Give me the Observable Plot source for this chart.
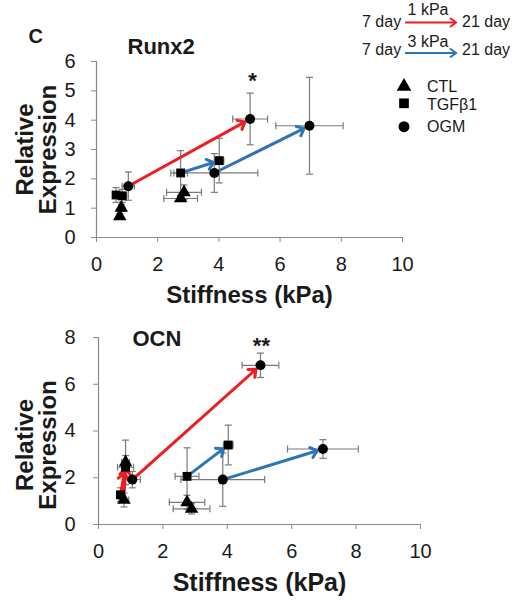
<!DOCTYPE html>
<html>
<head>
<meta charset="utf-8">
<script src="https://cdn.jsdelivr.net/npm/d3@7"></script>
<script src="https://cdn.jsdelivr.net/npm/@observablehq/plot@0.6"></script>
<style>
  body { margin: 0; background: #fff; }
  #wrap { position: relative; width: 512px; height: 600px; background: #fff;
          font-family: "Liberation Sans", Arial, sans-serif; }
  #wrap > svg, #wrap > figure { position: absolute; left: 0; margin: 0; }
</style>
</head>
<body>
<div id="wrap"></div>
<script>
// ---------------- data ----------------
const conditions = ["CTL", "TGFβ1", "OGM"];
const conditionSymbols = ["triangle", "square", "circle"];
const substrates = ["1 kPa", "3 kPa"];
const substrateColors = ["#ee1d23", "#2e75b6"];
const days = ["7 day", "21 day"];
const xTicks = [0, 2, 4, 6, 8, 10];
const runx2Ticks = [0, 1, 2, 3, 4, 5, 6];
const ocnTicks = [0, 2, 4, 6, 8];

// [condition, substrate, day, stiffness, stiffness SD, relative expression, expression SD]
const runx2Points = [
  ["CTL",   "1 kPa", 7,  0.81, 0.08, 1.01, 0.12],
  ["CTL",   "1 kPa", 21, 0.76, 0.08, 0.72, 0.10],
  ["TGFβ1", "1 kPa", 7,  0.84, 0.15, 1.42, 0.22],
  ["TGFβ1", "1 kPa", 21, 0.64, 0.10, 1.45, 0.25],
  ["OGM",   "1 kPa", 7,  1.04, 0.20, 1.75, 0.48],
  ["OGM",   "1 kPa", 21, 5.02, 0.57, 4.04, 0.88],
  ["CTL",   "3 kPa", 7,  2.75, 0.55, 1.33, 0.10],
  ["CTL",   "3 kPa", 21, 2.86, 0.57, 1.54, 0.25],
  ["TGFβ1", "3 kPa", 7,  2.75, 0.22, 2.20, 0.76],
  ["TGFβ1", "3 kPa", 21, 4.01, 0.15, 2.62, 0.76],
  ["OGM",   "3 kPa", 7,  3.85, 1.42, 2.20, 0.66],
  ["OGM",   "3 kPa", 21, 6.96, 1.10, 3.81, 1.65]
];
const ocnPoints = [
  ["CTL",   "1 kPa", 7,  0.79, 0.15, 1.05, 0.30],
  ["CTL",   "1 kPa", 21, 0.84, 0.12, 2.66, 0.95],
  ["TGFβ1", "1 kPa", 7,  0.68, 0.10, 1.27, 0.30],
  ["TGFβ1", "1 kPa", 21, 0.84, 0.25, 2.45, 0.50],
  ["OGM",   "1 kPa", 7,  1.05, 0.25, 1.92, 0.35],
  ["OGM",   "1 kPa", 21, 5.03, 0.57, 6.81, 0.52],
  ["CTL",   "3 kPa", 7,  2.75, 0.55, 0.95, 0.30],
  ["CTL",   "3 kPa", 21, 2.89, 0.57, 0.67, 0.22],
  ["TGFβ1", "3 kPa", 7,  2.75, 0.37, 2.06, 1.22],
  ["TGFβ1", "3 kPa", 21, 4.03, 0.15, 3.40, 0.85],
  ["OGM",   "3 kPa", 7,  3.86, 1.30, 1.92, 1.14],
  ["OGM",   "3 kPa", 21, 6.97, 1.10, 3.23, 0.40]
];
// significance marks: [stiffness, expression, label]
const runx2Stars = [[5.1, 5.35, "*"]];
const ocnStars = [[5.06, 7.64, "**"]];

// ---------------- helpers ----------------
const axisColor = "#8a8a8a";
const errColor = "#7a7a7a";
const textColor = "#1a1a1a";
const hCap = { draw(ctx, size) { const h = Math.sqrt(size / Math.PI); ctx.moveTo(-h, 0); ctx.lineTo(h, 0); } };
const vCap = { draw(ctx, size) { const h = Math.sqrt(size / Math.PI); ctx.moveTo(0, -h); ctx.lineTo(0, h); } };

function toRows(points) {
  return points.map(([condition, substrate, day, x, xe, y, ye]) => ({condition, substrate, day, x, xe, y, ye}));
}
function toArrows(rows) {
  const out = [];
  for (const s of substrates) for (const c of conditions) {
    const a = rows.find(r => r.condition === c && r.substrate === s && r.day === 7);
    const b = rows.find(r => r.condition === c && r.substrate === s && r.day === 21);
    if (a && b) out.push({substrate: s, x1: a.x, y1: a.y, x2: b.x, y2: b.y});
  }
  return out;
}

function panel(o) {
  const rows = toRows(o.points);
  const arrows = toArrows(rows);
  const capStyle = {stroke: errColor, fill: "none", strokeWidth: 1.2, r: 3.5};
  const fmt = d3.format("d");
  const marks = [
    Plot.ruleY([0], {stroke: axisColor, strokeWidth: 1.2}),
    Plot.ruleX([0], {stroke: axisColor, strokeWidth: 1.2}),
    Plot.axisX({ticks: xTicks, tickFormat: fmt, tickSize: 5, tickPadding: 14, stroke: axisColor, fill: textColor, fontSize: 20, label: null}),
    Plot.axisY({ticks: o.yTicks, tickFormat: fmt, tickSize: 5, tickPadding: o.yPad, stroke: axisColor, fill: textColor, fontSize: 20, label: null}),
    Plot.ruleX(rows, {x: "x", y1: d => d.y - d.ye, y2: d => d.y + d.ye, stroke: errColor, strokeWidth: 1.2}),
    Plot.ruleY(rows, {y: "y", x1: d => d.x - d.xe, x2: d => d.x + d.xe, stroke: errColor, strokeWidth: 1.2}),
    Plot.dot(rows, {x: "x", y: d => d.y - d.ye, symbol: hCap, ...capStyle}),
    Plot.dot(rows, {x: "x", y: d => d.y + d.ye, symbol: hCap, ...capStyle}),
    Plot.dot(rows, {x: d => d.x - d.xe, y: "y", symbol: vCap, ...capStyle}),
    Plot.dot(rows, {x: d => d.x + d.xe, y: "y", symbol: vCap, ...capStyle}),
    Plot.arrow(arrows, {x1: "x1", y1: "y1", x2: "x2", y2: "y2", stroke: "substrate",
      strokeWidth: 3, headLength: 4, headAngle: 80, insetStart: 5, insetEnd: 6}),
    Plot.dot(rows, {x: "x", y: "y", symbol: "condition", r: 5, fill: "#000", stroke: "none"}),
    Plot.text(o.stars, {x: d => d[0], y: d => d[1], text: d => d[2], fontSize: 22, fontWeight: "bold", fill: textColor}),
    Plot.text([o.title], {text: d => d, frameAnchor: "top-left", textAnchor: "start", lineAnchor: "bottom",
      dx: o.titleDx, dy: o.titleDy, fontSize: 22, fontWeight: "bold", fill: textColor}),
    Plot.text(["Relative\nExpression"], {text: d => d, frameAnchor: "left", rotate: -90, textAnchor: "middle",
      lineAnchor: "bottom", lineHeight: 0.95, dx: o.ylabelDx, dy: o.ylabelDy, fontSize: 24, fontWeight: "bold", fill: textColor}),
    Plot.text(["Stiffness (kPa)"], {text: d => d, frameAnchor: "bottom", textAnchor: "middle", lineAnchor: "bottom",
      dy: o.xlabelDy, fontSize: o.xlabelSize, fontWeight: "bold", fill: textColor})
  ];
  if (o.letter) marks.push(Plot.text([o.letter], {text: d => d, frameAnchor: "top-left", textAnchor: "start",
    lineAnchor: "bottom", dx: o.letterDx, dy: o.letterDy, fontSize: 20, fontWeight: "bold", fill: textColor}));
  const svg = Plot.plot({
    width: 512, height: o.height,
    marginTop: o.marginTop, marginBottom: o.marginBottom, marginLeft: o.marginLeft, marginRight: o.marginRight,
    x: {domain: [0, 10]},
    y: {domain: o.yDomain},
    color: {domain: substrates, range: substrateColors},
    symbol: {domain: conditions, range: conditionSymbols},
    style: {fontFamily: '"Liberation Sans", Arial, sans-serif', background: "transparent", overflow: "visible", color: textColor},
    marks
  });
  svg.style.top = o.top + "px";
  return svg;
}

const wrap = document.getElementById("wrap");
wrap.appendChild(panel({
  points: runx2Points, stars: runx2Stars, yTicks: runx2Ticks, yDomain: [0, 6], title: "Runx2",
  top: 0, height: 310, marginTop: 61, marginBottom: 73, marginLeft: 96, marginRight: 110, yPad: 16,
  titleDx: 31, titleDy: -8, ylabelDx: -41, ylabelDy: 0, xlabelDy: 65, xlabelSize: 24,
  letter: "C", letterDx: -68, letterDy: -19
}));
wrap.appendChild(panel({
  points: ocnPoints, stars: ocnStars, yTicks: ocnTicks, yDomain: [0, 8], title: "OCN",
  top: 310, height: 290, marginTop: 27, marginBottom: 76, marginLeft: 98, marginRight: 92, yPad: 18,
  titleDx: 34, titleDy: 8, ylabelDx: -43, ylabelDy: 14, xlabelDy: 66, xlabelSize: 25
}));

// ---------------- legend ----------------
const legend = d3.create("svg").attr("width", 512).attr("height", 140)
  .style("top", "0px").style("font-family", '"Liberation Sans", Arial, sans-serif')
  .style("font-size", "16px").attr("fill", textColor);
substrates.forEach((s, i) => {
  const yb = [27, 55][i], ya = [22.5, 53][i], yl = [15, 47][i];
  legend.append("text").attr("x", 362).attr("y", yb).text(days[0]);
  legend.append("text").attr("x", 462).attr("y", yb).text(days[1]);
  legend.append("text").attr("x", 428).attr("y", yl).attr("text-anchor", "middle").text(s);
  legend.append("line").attr("x1", 405).attr("x2", 456).attr("y1", ya).attr("y2", ya)
    .attr("stroke", substrateColors[i]).attr("stroke-width", 2);
  legend.append("path").attr("d", `M${450},${ya - 4.5}L${456},${ya}L${450},${ya + 4.5}`)
    .attr("fill", "none").attr("stroke", substrateColors[i]).attr("stroke-width", 2);
});
const symbolMap = {triangle: d3.symbolTriangle, square: d3.symbolSquare, circle: d3.symbolCircle};
conditions.forEach((c, i) => {
  const ys = [86.5, 103.3, 126.7][i], yt = [92, 110, 132][i];
  legend.append("path").attr("transform", `translate(404,${ys})`)
    .attr("d", d3.symbol(symbolMap[conditionSymbols[i]], Math.PI * 30)()).attr("fill", "#000");
  legend.append("text").attr("x", 427).attr("y", yt).text(c);
});
wrap.appendChild(legend.node());
</script>
</body>
</html>
